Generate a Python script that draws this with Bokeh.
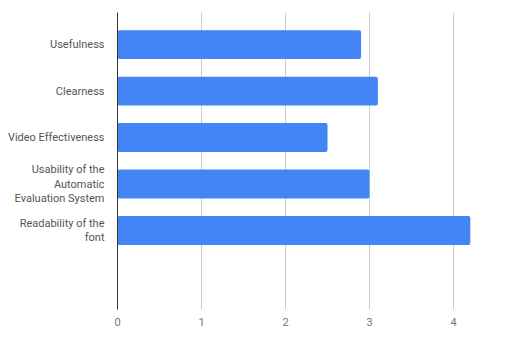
from bokeh.plotting import figure
from bokeh.models import Range1d, FixedTicker
from bokeh.embed import file_html
from bokeh.resources import INLINE

categories = ["Usefulness", "Clearness", "Video Effectiveness",
              "Usability of the\nAutomatic\nEvaluation System",
              "Readability of the\nfont"]
values = [2.9, 3.1, 2.5, 3.0, 4.2]
x_ticks = [0, 1, 2, 3, 4]

positions = list(range(len(categories)))

p = figure(output_backend="svg", toolbar_location=None,
           frame_width=378, frame_height=297,
           x_range=Range1d(0, 4.5), y_range=Range1d(5.70, -0.69),
           min_border_left=117, min_border_top=12, min_border_right=14,
           min_border_bottom=18)
p.outline_line_color = None
p.background_fill_color = "white"

p.hbar(y=positions, right=values, left=0, height=0.62,
       fill_color="#4285F4", line_color=None, border_radius=2)

# x axis
p.xaxis.ticker = FixedTicker(ticks=x_ticks)
p.xaxis.axis_line_color = None
p.xaxis.major_tick_line_color = None
p.xaxis.minor_tick_line_color = None
p.xaxis.major_label_standoff = 2
p.xaxis.major_label_text_font = "Roboto"
p.xaxis.major_label_text_font_size = "11px"
p.xaxis.major_label_text_color = "#757575"

# y axis
p.yaxis.ticker = FixedTicker(ticks=positions)
p.yaxis.major_label_overrides = {i: c for i, c in enumerate(categories)}
p.yaxis.axis_line_color = "#333333"
p.yaxis.axis_line_width = 1
p.yaxis.major_tick_line_color = None
p.yaxis.minor_tick_line_color = None
p.yaxis.major_label_standoff = 7
p.yaxis.major_label_text_font = "Roboto"
p.yaxis.major_label_text_font_size = "11px"
p.yaxis.major_label_text_color = "#555555"
p.yaxis.major_label_text_line_height = 1.1

p.xgrid.ticker = FixedTicker(ticks=x_ticks[1:])
p.xgrid.grid_line_color = "#cccccc"
p.ygrid.grid_line_color = None

open("out.html", "w").write(file_html(p, INLINE))
